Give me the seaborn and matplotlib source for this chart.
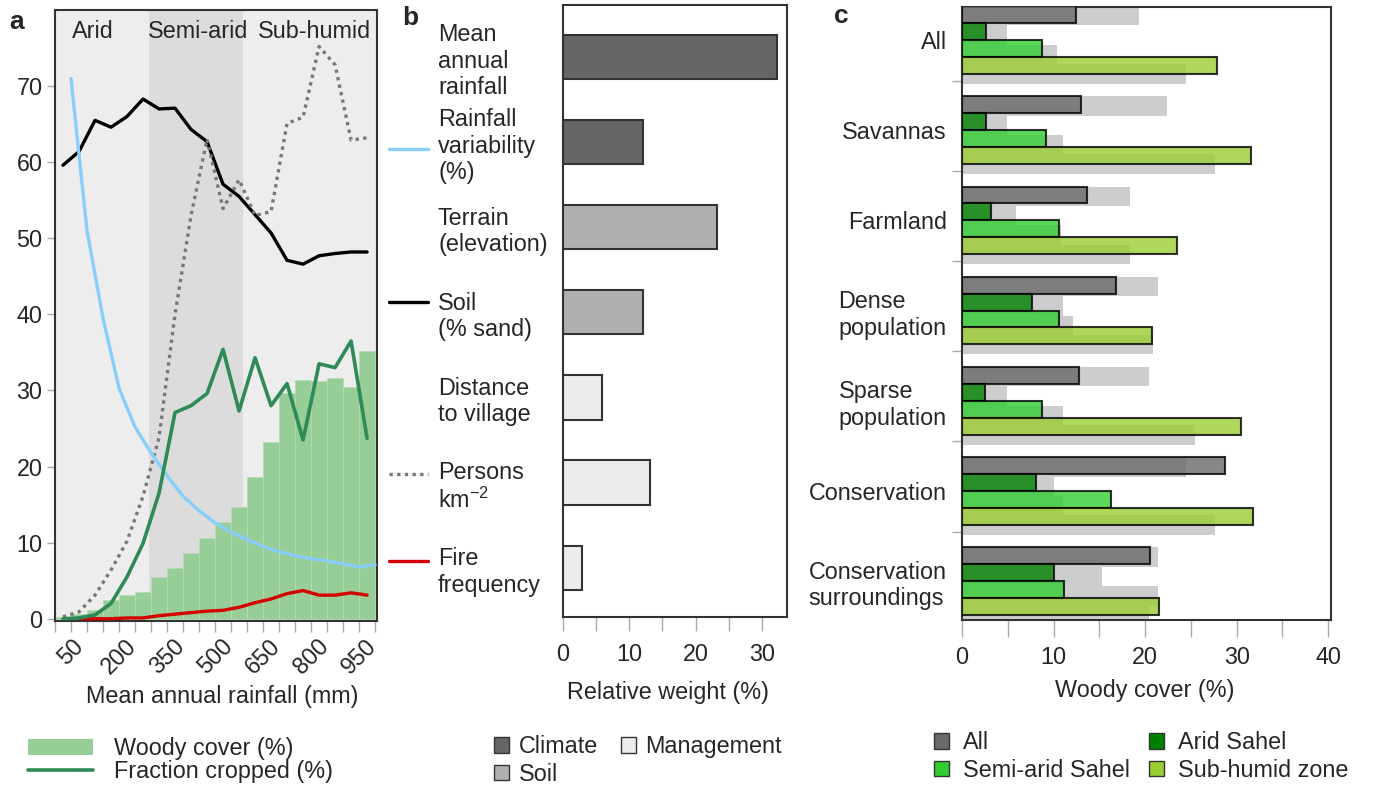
import numpy as np
import pandas as pd
import matplotlib
matplotlib.use("Agg")
import matplotlib.pyplot as plt
import seaborn as sns
from matplotlib.patches import Patch
from matplotlib.lines import Line2D

sns.set_style("white")
plt.rcParams['font.family'] = ['Liberation Sans', 'DejaVu Sans']
plt.rcParams['mathtext.fontset'] = 'custom'
plt.rcParams['mathtext.rm'] = 'Liberation Sans'
FS = 16.8
plt.rcParams['font.size'] = FS

# ---------------- data: panel a ----------------
rain_bin_mm = [25, 75, 125, 175, 225, 275, 325, 375, 425, 475,
               525, 575, 625, 675, 725, 775, 825, 875, 925, 975]
woody_cover = [0.2, 0.6, 1.1, 2.5, 3.1, 3.5, 5.5, 6.6, 8.6, 10.6,
               12.7, 14.7, 18.6, 23.2, 29.6, 31.4, 31.3, 31.7, 30.4, 35.2]
fraction_cropped = [0.0, 0.1, 0.5, 2.0, 5.5, 9.9, 16.5, 27.1, 28.0, 29.6,
                    35.4, 27.3, 34.3, 28.0, 30.9, 23.5, 33.5, 33.0, 36.5, 23.7]
soil_sand = [59.6, 61.4, 65.5, 64.6, 66.0, 68.3, 67.0, 67.1, 64.3, 62.7,
             57.1, 55.5, 53.1, 50.7, 47.1, 46.6, 47.7, 48.0, 48.2, 48.2]
persons_km2 = [0.25, 0.9, 3.1, 6.4, 10.2, 16.1, 23.8, 40.0, 53.0, 63.0,
               53.9, 57.7, 53.0, 53.5, 65.1, 65.9, 75.2, 72.8, 62.9, 63.2]
rain_var_mm = [50, 100, 150, 200, 250, 300, 350, 400, 450, 500,
               550, 600, 650, 700, 750, 800, 850, 900, 950, 1000]
rain_variability = [71.0, 51.0, 39.5, 30.3, 25.2, 21.8, 18.8, 16.1, 14.2, 12.6,
                    11.4, 10.4, 9.5, 8.8, 8.3, 7.9, 7.6, 7.2, 6.8, 7.1]
fire_mm = [75, 125, 175, 225, 275, 325, 375, 425, 475,
           525, 575, 625, 675, 725, 775, 825, 875, 925, 975]
fire_frequency = [0.0, 0.0, 0.0, 0.1, 0.1, 0.4, 0.6, 0.8, 1.0,
                  1.1, 1.5, 2.1, 2.6, 3.3, 3.7, 3.1, 3.1, 3.4, 3.1]
rain_tick_labels = [50, 200, 350, 500, 650, 800, 950]
zone_names_a = ["Arid", "Semi-arid", "Sub-humid"]
zone_label_mm = [119, 447, 809]
semi_arid_span = [295, 588]

# ---------------- data: panel b ----------------
factors_b = ["Mean\nannual\nrainfall", "Rainfall\nvariability\n(%)", "Terrain\n(elevation)",
             "Soil\n(% sand)", "Distance\nto village", "Persons\nkm$^{\\mathregular{-2}}$",
             "Fire\nfrequency"]
weights_b = [32.3, 12.1, 23.2, 12.1, 5.9, 13.2, 2.9]
groups_b = ["Climate", "Climate", "Soil", "Soil", "Management", "Management", "Management"]

# ---------------- data: panel c ----------------
categories_c = ["All", "Savannas", "Farmland", "Dense\npopulation", "Sparse\npopulation",
                "Conservation", "Conservation\nsurroundings"]
zones_c = ["All", "Arid Sahel", "Semi-arid Sahel", "Sub-humid zone"]
cover_all = [12.5, 13.0, 13.6, 16.8, 12.8, 28.7, 20.5]
cover_arid = [2.6, 2.6, 3.2, 7.6, 2.5, 8.1, 10.1]
cover_semi = [8.7, 9.2, 10.6, 10.6, 8.7, 16.3, 11.1]
cover_sub = [27.8, 31.6, 23.5, 20.7, 30.5, 31.8, 21.5]
shadow_all = [19.3, 22.4, 18.3, 21.4, 20.4, 24.5, 21.4]
shadow_arid = [4.9, 4.9, 5.9, 11.0, 4.9, 10.0, 15.3]
shadow_semi = [10.4, 11.0, 10.8, 12.1, 11.0, 11.0, 21.4]
shadow_sub = [24.5, 27.6, 18.3, 20.9, 25.5, 27.6, 20.4]

# ---------------- styles ----------------
woody_color = '#97cd97'
crop_color = '#2e8b57'
var_color = '#87cefa'
fire_color = '#d40000'
soil_color = 'black'
pers_color = '#777777'
group_colors = {"Climate": "#666666", "Soil": "#b0b0b0", "Management": "#ececec"}
zone_colors = {"All": "#696969", "Arid Sahel": "#008000",
               "Semi-arid Sahel": "#32cd32", "Sub-humid zone": "#9acd32"}
spine_c = '#333333'
tick_c = '#aaaaaa'

W, H = 1373, 787
fig = plt.figure(figsize=(W / 100, H / 100), dpi=100)


def frac(x0, y0, x1, y1):
    return [x0 / W, 1 - y1 / H, (x1 - x0) / W, (y1 - y0) / H]


axa = fig.add_axes(frac(55, 10, 377, 621))
axb = fig.add_axes(frac(563, 5, 787, 617))
axc = fig.add_axes(frac(962, 7, 1331, 620))

for ax in (axa, axb, axc):
    for s in ax.spines.values():
        s.set_color(spine_c)
        s.set_linewidth(1.5)
        s.set_visible(True)

# ---------------- panel a ----------------
axa.set_facecolor('#ededed')
axa.axvspan(semi_arid_span[0], semi_arid_span[1], color='#dcdcdc', zorder=0, lw=0)
df_w = pd.DataFrame({'rain': rain_bin_mm, 'woody': woody_cover})
sns.barplot(data=df_w, x='rain', y='woody', native_scale=True, width=1.0,
            color=woody_color, saturation=1, edgecolor='#b5dcb5', linewidth=0.6,
            errorbar=None, ax=axa, zorder=2)
sns.lineplot(x=rain_bin_mm, y=soil_sand, color=soil_color, lw=2.4, ax=axa, zorder=4)
sns.lineplot(x=rain_bin_mm, y=persons_km2, color=pers_color, lw=2.4,
             linestyle=(0, (1, 1.3)), ax=axa, zorder=4)
sns.lineplot(x=rain_var_mm, y=rain_variability, color=var_color, lw=2.4, ax=axa,
             zorder=4, clip_on=False)
sns.lineplot(x=fire_mm, y=fire_frequency, color=fire_color, lw=2.4, ax=axa, zorder=4)
sns.lineplot(x=rain_bin_mm, y=fraction_cropped, color=crop_color, lw=2.6, ax=axa, zorder=5)

axa.set_xlim(0, 1006)
axa.set_ylim(-0.3, 80)
axa.set_xticks(rain_tick_labels)
axa.set_xticklabels([str(v) for v in rain_tick_labels], rotation=45)
axa.set_xticks(np.arange(0, 1001, 50), minor=True)
axa.tick_params(axis='x', which='both', direction='out', length=8, width=1,
                color=tick_c, pad=2, bottom=True)
axa.set_yticks(np.arange(0, 71, 10))
axa.tick_params(axis='y', direction='out', length=6, width=1, color=tick_c, pad=3, left=True)
axa.set_xlabel('')
axa.set_ylabel('')
for name, xm in zip(zone_names_a, zone_label_mm):
    axa.text(xm, 77.2, name, ha='center', va='center', fontsize=FS)

# ---------------- panel b ----------------
df_b = pd.DataFrame({'factor': factors_b, 'weight': weights_b, 'group': groups_b})
sns.barplot(data=df_b, y='factor', x='weight', hue='group', palette=group_colors,
            dodge=False, width=0.52, edgecolor=spine_c, linewidth=1.5, saturation=1,
            legend=False, errorbar=None, ax=axb)
axb.set_ylim(6.58, -0.61)
axb.set_xlim(0, 33.8)
axb.set_xticks([0, 10, 20, 30])
axb.set_xticks([5, 15, 25], minor=True)
axb.tick_params(axis='x', which='both', direction='out', length=10, width=1,
                color=tick_c, pad=9, bottom=True)
axb.tick_params(axis='y', length=0, pad=90)
for lab in axb.get_yticklabels():
    lab.set_ha('left')
    lab.set_multialignment('left')
axb.set_xlabel('')
axb.set_ylabel('')

# ---------------- panel c ----------------
df_c = pd.DataFrame({'category': categories_c, 'All': cover_all, 'Arid Sahel': cover_arid,
                     'Semi-arid Sahel': cover_semi, 'Sub-humid zone': cover_sub})
df_c = df_c.melt(id_vars='category', var_name='zone', value_name='cover')
df_s = pd.DataFrame({'category': categories_c, 'All': shadow_all, 'Arid Sahel': shadow_arid,
                     'Semi-arid Sahel': shadow_semi, 'Sub-humid zone': shadow_sub})
df_s = df_s.melt(id_vars='category', var_name='zone', value_name='cover')

sns.barplot(data=df_s, y='category', x='cover', hue='zone', hue_order=zones_c,
            order=categories_c, palette=['#cdcdcd'] * 4, width=0.86, linewidth=0,
            saturation=1, legend=False, errorbar=None, ax=axc, zorder=1)
for p in axc.patches:
    p.set_y(p.get_y() + 0.055)
sns.barplot(data=df_c, y='category', x='cover', hue='zone', hue_order=zones_c,
            order=categories_c, palette=zone_colors, width=0.75, alpha=0.8,
            edgecolor='black', linewidth=1.5, saturation=1, legend=False,
            errorbar=None, ax=axc, zorder=3)
axc.set_ylim(6.43, -0.365)
axc.set_xlim(0, 40.3)
axc.set_xticks([0, 10, 20, 30, 40])
axc.set_xticks([5, 15, 25, 35], minor=True)
axc.tick_params(axis='x', which='both', direction='out', length=12, width=1,
                color=tick_c, pad=7, bottom=True)
axc.set_yticks(np.arange(0.45, 6, 1.0), minor=True)
axc.tick_params(axis='y', which='minor', direction='out', length=7, width=1,
                color=tick_c, left=True)
axc.tick_params(axis='y', which='major', length=0, pad=11)
for lab in axc.get_yticklabels():
    lab.set_multialignment('left')
axc.set_xlabel('')
axc.set_ylabel('')

# ---------------- axis titles / panel letters ----------------
fig.text(222 / W, 1 - 697 / H, 'Mean annual rainfall (mm)', ha='center', va='center', fontsize=FS)
fig.text(668 / W, 1 - 693 / H, 'Relative weight (%)', ha='center', va='center', fontsize=FS)
fig.text(1145 / W, 1 - 691 / H, 'Woody cover (%)', ha='center', va='center', fontsize=FS)
fig.text(17 / W, 1 - 22 / H, 'a', ha='center', va='center', fontsize=19, fontweight='bold')
fig.text(410 / W, 1 - 18 / H, 'b', ha='center', va='center', fontsize=19, fontweight='bold')
fig.text(841 / W, 1 - 16 / H, 'c', ha='center', va='center', fontsize=19, fontweight='bold')

# ---------------- legend keys for panel a lines (next to panel b labels) ----------------
key_lines = [(149, var_color, '-'), (302, soil_color, '-'),
             (474, pers_color, (0, (1, 1.3))), (561, fire_color, '-')]
for yk, col, ls in key_lines:
    fig.add_artist(Line2D([389 / W, 428 / W], [1 - yk / H, 1 - yk / H],
                          transform=fig.transFigure, color=col, lw=2.4, linestyle=ls))

# ---------------- legends ----------------
leg_a = fig.legend(handles=[Patch(facecolor=woody_color, edgecolor='none'),
                            Line2D([], [], color=crop_color, lw=2.6)],
                   labels=['Woody cover (%)', 'Fraction cropped (%)'],
                   loc='upper left', bbox_to_anchor=(28 / W, 1 - 737 / H), frameon=False,
                   fontsize=FS, handlelength=2.8, handleheight=0.7, handletextpad=0.9,
                   labelspacing=0.0, borderpad=0, borderaxespad=0)

leg_b = fig.legend(handles=[Patch(facecolor=group_colors['Climate'], edgecolor=spine_c),
                            Patch(facecolor=group_colors['Soil'], edgecolor=spine_c),
                            Patch(facecolor=group_colors['Management'], edgecolor=spine_c)],
                   labels=['Climate', 'Soil', 'Management'], ncol=2,
                   loc='upper left', bbox_to_anchor=(494 / W, 1 - 735 / H), frameon=False,
                   fontsize=FS, handlelength=0.65, handleheight=0.65, handletextpad=0.4,
                   labelspacing=0.2, columnspacing=1.0, borderpad=0, borderaxespad=0)

leg_c = fig.legend(handles=[Patch(facecolor=zone_colors['All'], edgecolor=spine_c),
                            Patch(facecolor=zone_colors['Semi-arid Sahel'], edgecolor=spine_c),
                            Patch(facecolor=zone_colors['Arid Sahel'], edgecolor=spine_c),
                            Patch(facecolor=zone_colors['Sub-humid zone'], edgecolor=spine_c)],
                   labels=['All', 'Semi-arid Sahel', 'Arid Sahel', 'Sub-humid zone'], ncol=2,
                   loc='upper left', bbox_to_anchor=(934 / W, 1 - 731 / H), frameon=False,
                   fontsize=FS, handlelength=0.65, handleheight=0.65, handletextpad=0.6,
                   labelspacing=0.2, columnspacing=0.8, borderpad=0, borderaxespad=0)

fig.savefig('out.png', dpi=100)
